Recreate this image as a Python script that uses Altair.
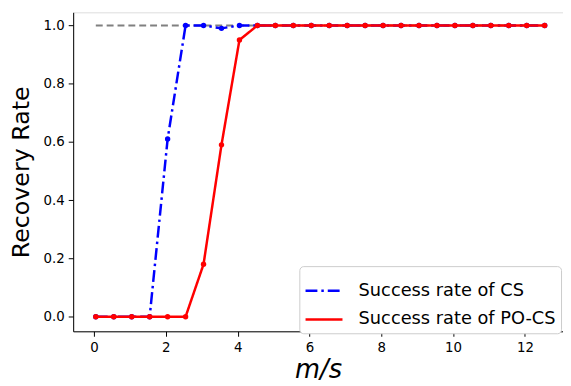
import altair as alt
import pandas as pd

x_vals = [0.05 + 0.5 * i for i in range(26)]
cs_vals = [0, 0, 0, 0, 0.61, 1.0, 1.0, 0.99, 1.0, 1.0, 1.0, 1.0, 1.0, 1.0, 1.0, 1.0, 1.0,
           1.0, 1.0, 1.0, 1.0, 1.0, 1.0, 1.0, 1.0, 1.0]
pocs_vals = [0, 0, 0, 0, 0, 0, 0.18, 0.59, 0.95, 1.0, 1.0, 1.0, 1.0, 1.0, 1.0, 1.0, 1.0,
             1.0, 1.0, 1.0, 1.0, 1.0, 1.0, 1.0, 1.0, 1.0]
series_names = ["Success rate of CS", "Success rate of PO-CS"]
ref_x = [0.05, 12.55]
ref_y = [1.0, 1.0]

rows = []
for x, v in zip(x_vals, cs_vals):
    rows.append({"x": x, "y": v, "series": series_names[0], "order": 0})
for x, v in zip(x_vals, pocs_vals):
    rows.append({"x": x, "y": v, "series": series_names[1], "order": 1})
df = pd.DataFrame(rows)
ref_df = pd.DataFrame({"x": ref_x, "y": ref_y})

xs = alt.Scale(domain=[-0.58, 13.06], nice=False, zero=False)
ys = alt.Scale(domain=[-0.05, 1.045], nice=False, zero=False)

xax = alt.Axis(values=[0, 2, 4, 6, 8, 10, 12], title="m/s", titleFontStyle="italic",
               titleFontSize=26, titleFontWeight="normal", labelFontSize=13.5,
               tickSize=5, labelPadding=4, titlePadding=3, grid=False,
               domainColor="black", tickColor="black", labelColor="black", titleColor="black")
yax = alt.Axis(values=[0, 0.2, 0.4, 0.6, 0.8, 1.0], format=".1f", title="Recovery Rate",
               titleFontSize=24, titleFontWeight="normal", labelFontSize=13.5,
               tickSize=5, labelPadding=4, titlePadding=10, grid=False,
               domainColor="black", tickColor="black", labelColor="black", titleColor="black")

ref = alt.Chart(ref_df).mark_line(color="gray", strokeDash=[7, 4], strokeWidth=2).encode(
    x=alt.X("x:Q", scale=xs, axis=xax), y=alt.Y("y:Q", scale=ys, axis=yax))

cscale = alt.Scale(domain=series_names, range=["#0000ff", "#ff0000"])
color = alt.Color("series:N", scale=cscale,
                  legend=alt.Legend(title=None, orient="none", legendX=229, legendY=257,
                                    labelFontSize=18, labelLimit=400, symbolType="stroke",
                                    symbolStrokeWidth=2.5, symbolSize=1400,
                                    strokeColor="#cccccc", fillColor="white",
                                    padding=5, cornerRadius=4, rowPadding=0, labelOffset=15,
                                    labelColor="black"))
dash = alt.StrokeDash("series:N", scale=alt.Scale(domain=series_names, range=[[12, 4, 2.5, 4], [1, 0]]),
                      legend=None)

lines = alt.Chart(df).mark_line(strokeWidth=2.5).encode(
    x="x:Q", y="y:Q", color=color, strokeDash=dash, detail="series:N")
pts = alt.Chart(df).mark_circle(size=30, opacity=1).encode(
    x="x:Q", y="y:Q", color=alt.Color("series:N", scale=cscale, legend=None))

blue_l = lines.transform_filter(alt.datum.order == 0)
blue_p = pts.transform_filter(alt.datum.order == 0)
red_l = lines.transform_filter(alt.datum.order == 1)
red_p = pts.transform_filter(alt.datum.order == 1)

chart = alt.layer(ref, blue_l, blue_p, red_l, red_p).properties(
    width=496, height=323,
    autosize=alt.AutoSizeParams(type="none"),
    padding={"left": 66, "top": 2, "right": 0, "bottom": 53},
).configure_view(stroke="black", strokeWidth=1).configure(font="DejaVu Sans")

chart.save("out.html", embed_options={"renderer": "svg", "actions": False})
